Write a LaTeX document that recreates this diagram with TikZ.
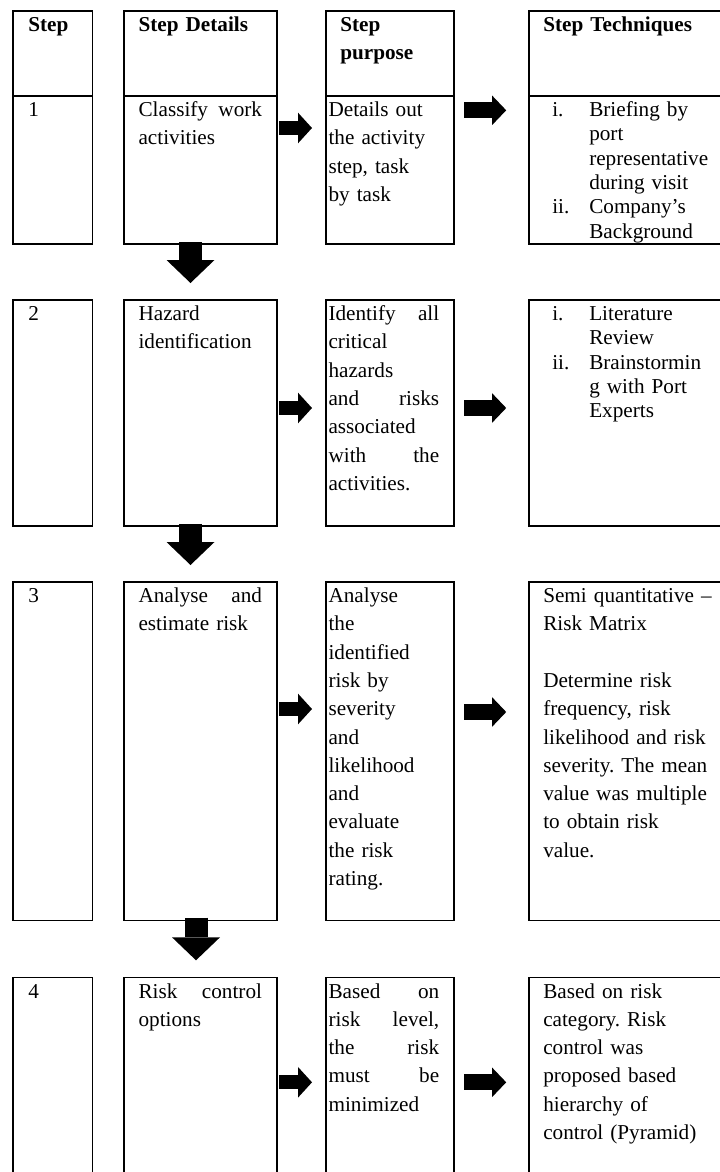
\documentclass[tikz,border=0pt]{standalone}
\usepackage{fontspec}
\setmainfont{Liberation Serif}
\usetikzlibrary{arrows.meta,calc}
\frenchspacing

\begin{document}
\begin{tikzpicture}[x=0.75pt,y=-0.75pt,
  box/.style={draw, line width=1.1pt, inner sep=0pt, outer sep=0pt, anchor=north west},
  colS/.style={box, minimum width=59.6pt},
  colD/.style={box, minimum width=114.6pt},
  colP/.style={box, minimum width=96pt},
  colT/.style={box, minimum width=158pt},
  txt/.style={inner sep=0pt, anchor=base west, align=left, font=\fontsize{15.9}{21.2}\selectfont},
  hdtxt/.style={txt, font=\fontsize{15.9}{21.2}\selectfont\bfseries},
  lst/.style={txt, font=\fontsize{15.9}{18.2}\selectfont},
  fatA/.style={line width=10.7pt, -{Triangle[length=10.5pt, width=23pt, line width=0pt]}},
  fatB/.style={line width=12pt, -{Triangle[length=10.5pt, width=22pt, line width=0pt]}},
  fatD/.style={line width=17.25pt, -{Triangle[length=17.25pt, width=36pt, line width=0pt]}}]

\useasboundingbox (0,0) rectangle (720,1172);

% header row
\node[colS, minimum height=63.9pt] (hs) at (13,10.8) {};
\node[colD, minimum height=63.9pt] (hd) at (124.2,10.8) {};
\node[colP, minimum height=63.9pt] (hp) at (326,10.8) {};
\node[colT, minimum height=63.9pt] (ht) at (529.2,10.8) {};

\node[hdtxt] (hst) at ($(hs.north west)+(15,20.7)$) {Step};
\node[hdtxt, text width=92.6pt] (hdt) at ($(hd.north west)+(14.1,20.7)$) {Step Details};
\node[hdtxt, text width=83pt] (hpt) at ($(hp.north west)+(14,20.7)$) {Step\\purpose};
\node[hdtxt, text width=130pt] (htt) at ($(ht.north west)+(13.8,20.7)$) {Step Techniques};

% step 1
\node[colS, minimum height=111pt] (s1) at (13,96) {};
\node[colD, minimum height=111pt] (d1) at (124.2,96) {};
\node[colP, minimum height=111pt] (p1) at (326,96) {};
\node[colT, minimum height=111pt] (t1) at (529.2,96) {};

\node[txt] (s1t) at ($(s1.north west)+(15,20.7)$) {1};
\node[txt, text width=92.6pt] (d1t) at ($(d1.north west)+(14.1,20.7)$) {Classify\hfill work\\activities};
\node[txt, text width=83pt] (p1t) at ($(p1.north west)+(2.3,20.7)$) {Details out\\the activity\\step, task\\by task};
\node[lst, text width=130pt] (t1t) at ($(t1.north west)+(22.8,20.7)$)
  {\makebox[27.75pt][l]{i.}Briefing by\\\hspace*{27.75pt}port\\\hspace*{27.75pt}representative\\\hspace*{27.75pt}during visit\\\makebox[27.75pt][l]{ii.}Company’s\\\hspace*{27.75pt}Background};

% step 2
\node[colS, minimum height=169.35pt] (s2) at (13,300) {};
\node[colD, minimum height=169.35pt] (d2) at (124.2,300) {};
\node[colP, minimum height=169.35pt] (p2) at (326,300) {};
\node[colT, minimum height=169.35pt] (t2) at (529.2,300) {};

\node[txt] (s2t) at ($(s2.north west)+(15,20.7)$) {2};
\node[txt, text width=92.6pt] (d2t) at ($(d2.north west)+(14.1,20.7)$) {Hazard\\identification};
\node[txt, text width=83pt] (p2t) at ($(p2.north west)+(2.3,20.7)$)
  {Identify\hfill all\\critical\\hazards\\and\hfill risks\\associated\\with\hfill the\\activities.};
\node[lst, text width=130pt] (t2t) at ($(t2.north west)+(22.8,20.7)$)
  {\makebox[27.75pt][l]{i.}Literature\\\hspace*{27.75pt}Review\\\makebox[27.75pt][l]{ii.}Brainstormin\\\hspace*{27.75pt}g with Port\\\hspace*{27.75pt}Experts};

% step 3
\node[colS, minimum height=254pt] (s3) at (13,582) {};
\node[colD, minimum height=254pt] (d3) at (124.2,582) {};
\node[colP, minimum height=254pt] (p3) at (326,582) {};
\node[colT, minimum height=254pt] (t3) at (529.2,582) {};

\node[txt] (s3t) at ($(s3.north west)+(15,20.7)$) {3};
\node[txt, text width=92.6pt] (d3t) at ($(d3.north west)+(14.1,20.7)$) {Analyse\hfill and\\estimate risk};
\node[txt, text width=83pt] (p3t) at ($(p3.north west)+(2.3,20.7)$)
  {Analyse\\the\\identified\\risk by\\severity\\and\\likelihood\\and\\evaluate\\the risk\\rating.};
\node[txt, text width=130pt] (t3t) at ($(t3.north west)+(13.8,20.7)$)
  {Semi quantitative --\\Risk Matrix\\[21.2pt]Determine risk\\frequency, risk\\likelihood and risk\\severity. The mean\\value was multiple\\to obtain risk\\value.};

% step 4
\node[colS, minimum height=170pt] (s4) at (13,977.3) {};
\node[colD, minimum height=170pt] (d4) at (124.2,977.3) {};
\node[colP, minimum height=170pt] (p4) at (326,977.3) {};
\node[colT, minimum height=170pt] (t4) at (529.2,977.3) {};

\node[txt] (s4t) at ($(s4.north west)+(15,20.7)$) {4};
\node[txt, text width=92.6pt] (d4t) at ($(d4.north west)+(14.1,20.7)$) {Risk\hfill control\\options};
\node[txt, text width=83pt] (p4t) at ($(p4.north west)+(2.3,20.7)$)
  {Based\hfill on\\risk\hfill level,\\the\hfill risk\\must\hfill be\\minimized};
\node[txt, text width=130pt] (t4t) at ($(t4.north west)+(13.8,20.7)$)
  {Based on risk\\category. Risk\\control was\\proposed based\\hierarchy of\\control (Pyramid)};

% arrows across
\draw[fatA] ($(d1.north east)+(2,32)$) -- ($(p1.north west)+(-14,32)$);
\draw[fatB] ($(p1.north east)+(10,14.3)$) -- ($(t1.north west)+(-23,14.3)$);
\draw[fatA] ($(d2.north east)+(2,108)$) -- ($(p2.north west)+(-14,108)$);
\draw[fatB] ($(p2.north east)+(10,108)$) -- ($(t2.north west)+(-23,108)$);
\draw[fatA] ($(d3.north east)+(2,127)$) -- ($(p3.north west)+(-14,127)$);
\draw[fatB] ($(p3.north east)+(10,130)$) -- ($(t3.north west)+(-23,130)$);
\draw[fatA] ($(d4.north east)+(2,105)$) -- ($(p4.north west)+(-14,105)$);
\draw[fatB] ($(p4.north east)+(10,105)$) -- ($(t4.north west)+(-23,105)$);

% arrows down
\draw[fatD] ($(d1.south west)+(66.3,-2)$) -- ($(d2.north west)+(66.3,-17)$);
\draw[fatD] ($(d2.south west)+(66.3,-2)$) -- ($(d3.north west)+(66.3,-17)$);
\draw[fatD] ($(d3.south west)+(71.8,-3)$) -- ($(d4.north west)+(71.8,-17)$);

\end{tikzpicture}
\end{document}
